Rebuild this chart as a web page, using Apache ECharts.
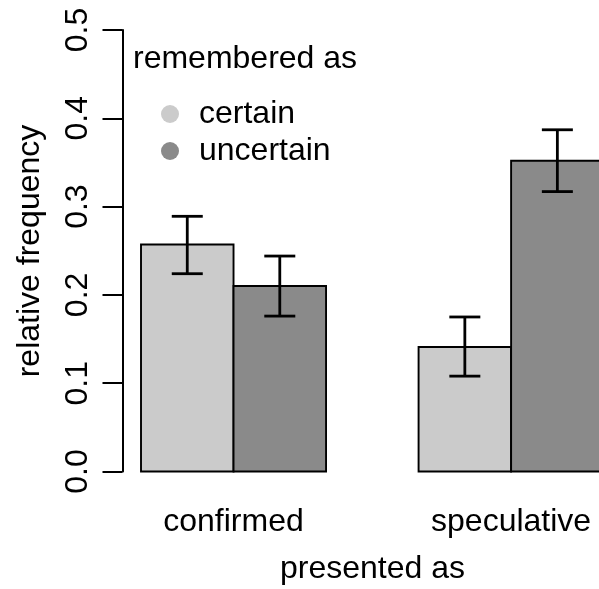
<!DOCTYPE html>
<html>
<head>
<meta charset="utf-8">
<script src="https://cdn.jsdelivr.net/npm/echarts@6/dist/echarts.min.js"></script>
<style>
html,body{margin:0;padding:0;background:#fff;}
#chart{width:599px;height:589px;}
</style>
</head>
<body>
<div id="chart"></div>
<script>
// ---- data ----
const categories = ['confirmed', 'speculative'];
const groupNames = ['certain', 'uncertain'];
const certainValues = [0.257, 0.141];
const uncertainValues = [0.210, 0.352];
const certainLow = [0.224, 0.108];
const certainHigh = [0.289, 0.175];
const uncertainLow = [0.176, 0.317];
const uncertainHigh = [0.244, 0.387];
const yTickValues = [0.0, 0.1, 0.2, 0.3, 0.4, 0.5];
const xTitle = 'presented as';
const yTitle = 'relative frequency';
const legendTitle = 'remembered as';

const colors = ['#CBCBCB', '#8A8A8A'];
const FONT = 'Liberation Sans, Arial, Helvetica, sans-serif';

// R barplot(beside=TRUE) layout: space 1 before each group, bars of width 1
const nBars = groupNames.length;
function barCenter(g, j) { return 1 + g * (nBars + 1) + j + 0.5; }
function groupCenter(g) { return 1 + g * (nBars + 1) + nBars / 2; }

const seriesValues = [certainValues, uncertainValues];
const seriesLow = [certainLow, uncertainLow];
const seriesHigh = [certainHigh, uncertainHigh];

const series = [];
groupNames.forEach(function (name, j) {
  const data = categories.map(function (c, g) {
    return [barCenter(g, j), seriesValues[j][g]];
  });
  series.push({
    name: name,
    type: 'custom',
    itemStyle: { color: colors[j] },
    clip: false,
    data: data,
    z: 2,
    renderItem: function (params, api) {
      const x = api.value(0), v = api.value(1);
      const p0 = api.coord([x - 0.5, 0]);
      const p1 = api.coord([x + 0.5, v]);
      return {
        type: 'rect',
        shape: { x: p0[0], y: p1[1], width: p1[0] - p0[0], height: p0[1] - p1[1] },
        style: { fill: colors[j], stroke: '#000', lineWidth: 1.9 }
      };
    }
  });
});
groupNames.forEach(function (name, j) {
  const data = categories.map(function (c, g) {
    return [barCenter(g, j), seriesLow[j][g], seriesHigh[j][g]];
  });
  series.push({
    name: name + ' error',
    type: 'custom',
    clip: false,
    data: data,
    z: 3,
    renderItem: function (params, api) {
      const x = api.value(0);
      const lo = api.coord([x, api.value(1)]);
      const hi = api.coord([x, api.value(2)]);
      const cap = 15.5;
      const st = { stroke: '#000', lineWidth: 2.8 };
      return {
        type: 'group',
        children: [
          { type: 'line', shape: { x1: lo[0], y1: lo[1], x2: hi[0], y2: hi[1] }, style: st },
          { type: 'line', shape: { x1: lo[0] - cap, y1: lo[1], x2: lo[0] + cap, y2: lo[1] }, style: st },
          { type: 'line', shape: { x1: hi[0] - cap, y1: hi[1], x2: hi[0] + cap, y2: hi[1] }, style: st }
        ]
      };
    }
  });
});

const chart = echarts.init(document.getElementById('chart'), null, { renderer: 'canvas' });
chart.setOption({
  animation: false,
  backgroundColor: '#fff',
  textStyle: { fontFamily: FONT },
  grid: { left: 122.5, top: 30, right: 0, height: 441.5, containLabel: false },
  xAxis: {
    type: 'value', min: 0.8, max: 5.95,
    axisLine: { show: false }, axisTick: { show: false }, splitLine: { show: false },
    axisLabel: {
      customValues: categories.map(function (c, g) { return groupCenter(g); }),
      formatter: function (v) {
        for (let g = 0; g < categories.length; g++) if (Math.abs(groupCenter(g) - v) < 1e-6) return categories[g];
        return '';
      },
      fontSize: 32, color: '#000', fontFamily: FONT, margin: 35
    }
  },
  yAxis: {
    type: 'value', min: 0, max: 0.5, interval: 0.1,
    axisLine: { show: true, lineStyle: { color: '#000', width: 2 } },
    axisTick: { show: true, inside: false, length: 20, customValues: yTickValues, lineStyle: { color: '#000', width: 2 } },
    axisLabel: {
      customValues: yTickValues,
      rotate: 90, fontSize: 32, color: '#000', fontFamily: FONT, margin: 28,
      formatter: function (v) { return v.toFixed(1); }
    },
    splitLine: { show: false }
  },
  legend: {
    data: groupNames,
    orient: 'vertical',
    left: 156, top: 93,
    icon: 'circle',
    itemWidth: 48, itemHeight: 18,
    itemGap: 5,
    textStyle: { fontSize: 32, color: '#000', fontFamily: FONT, lineHeight: 32 },
    selectedMode: false
  },
  graphic: [
    { type: 'text', left: 133, top: 43, style: { text: legendTitle, font: '32px ' + FONT, fill: '#000' } },
    { type: 'text', x: 372.5, y: 569, style: { text: xTitle, font: '32px ' + FONT, fill: '#000', align: 'center', verticalAlign: 'middle' } },
    { type: 'text', x: 30, y: 251, rotation: Math.PI / 2, style: { text: yTitle, font: '32px ' + FONT, fill: '#000', align: 'center', verticalAlign: 'middle' } }
  ],
  series: series
});
</script>
</body>
</html>
